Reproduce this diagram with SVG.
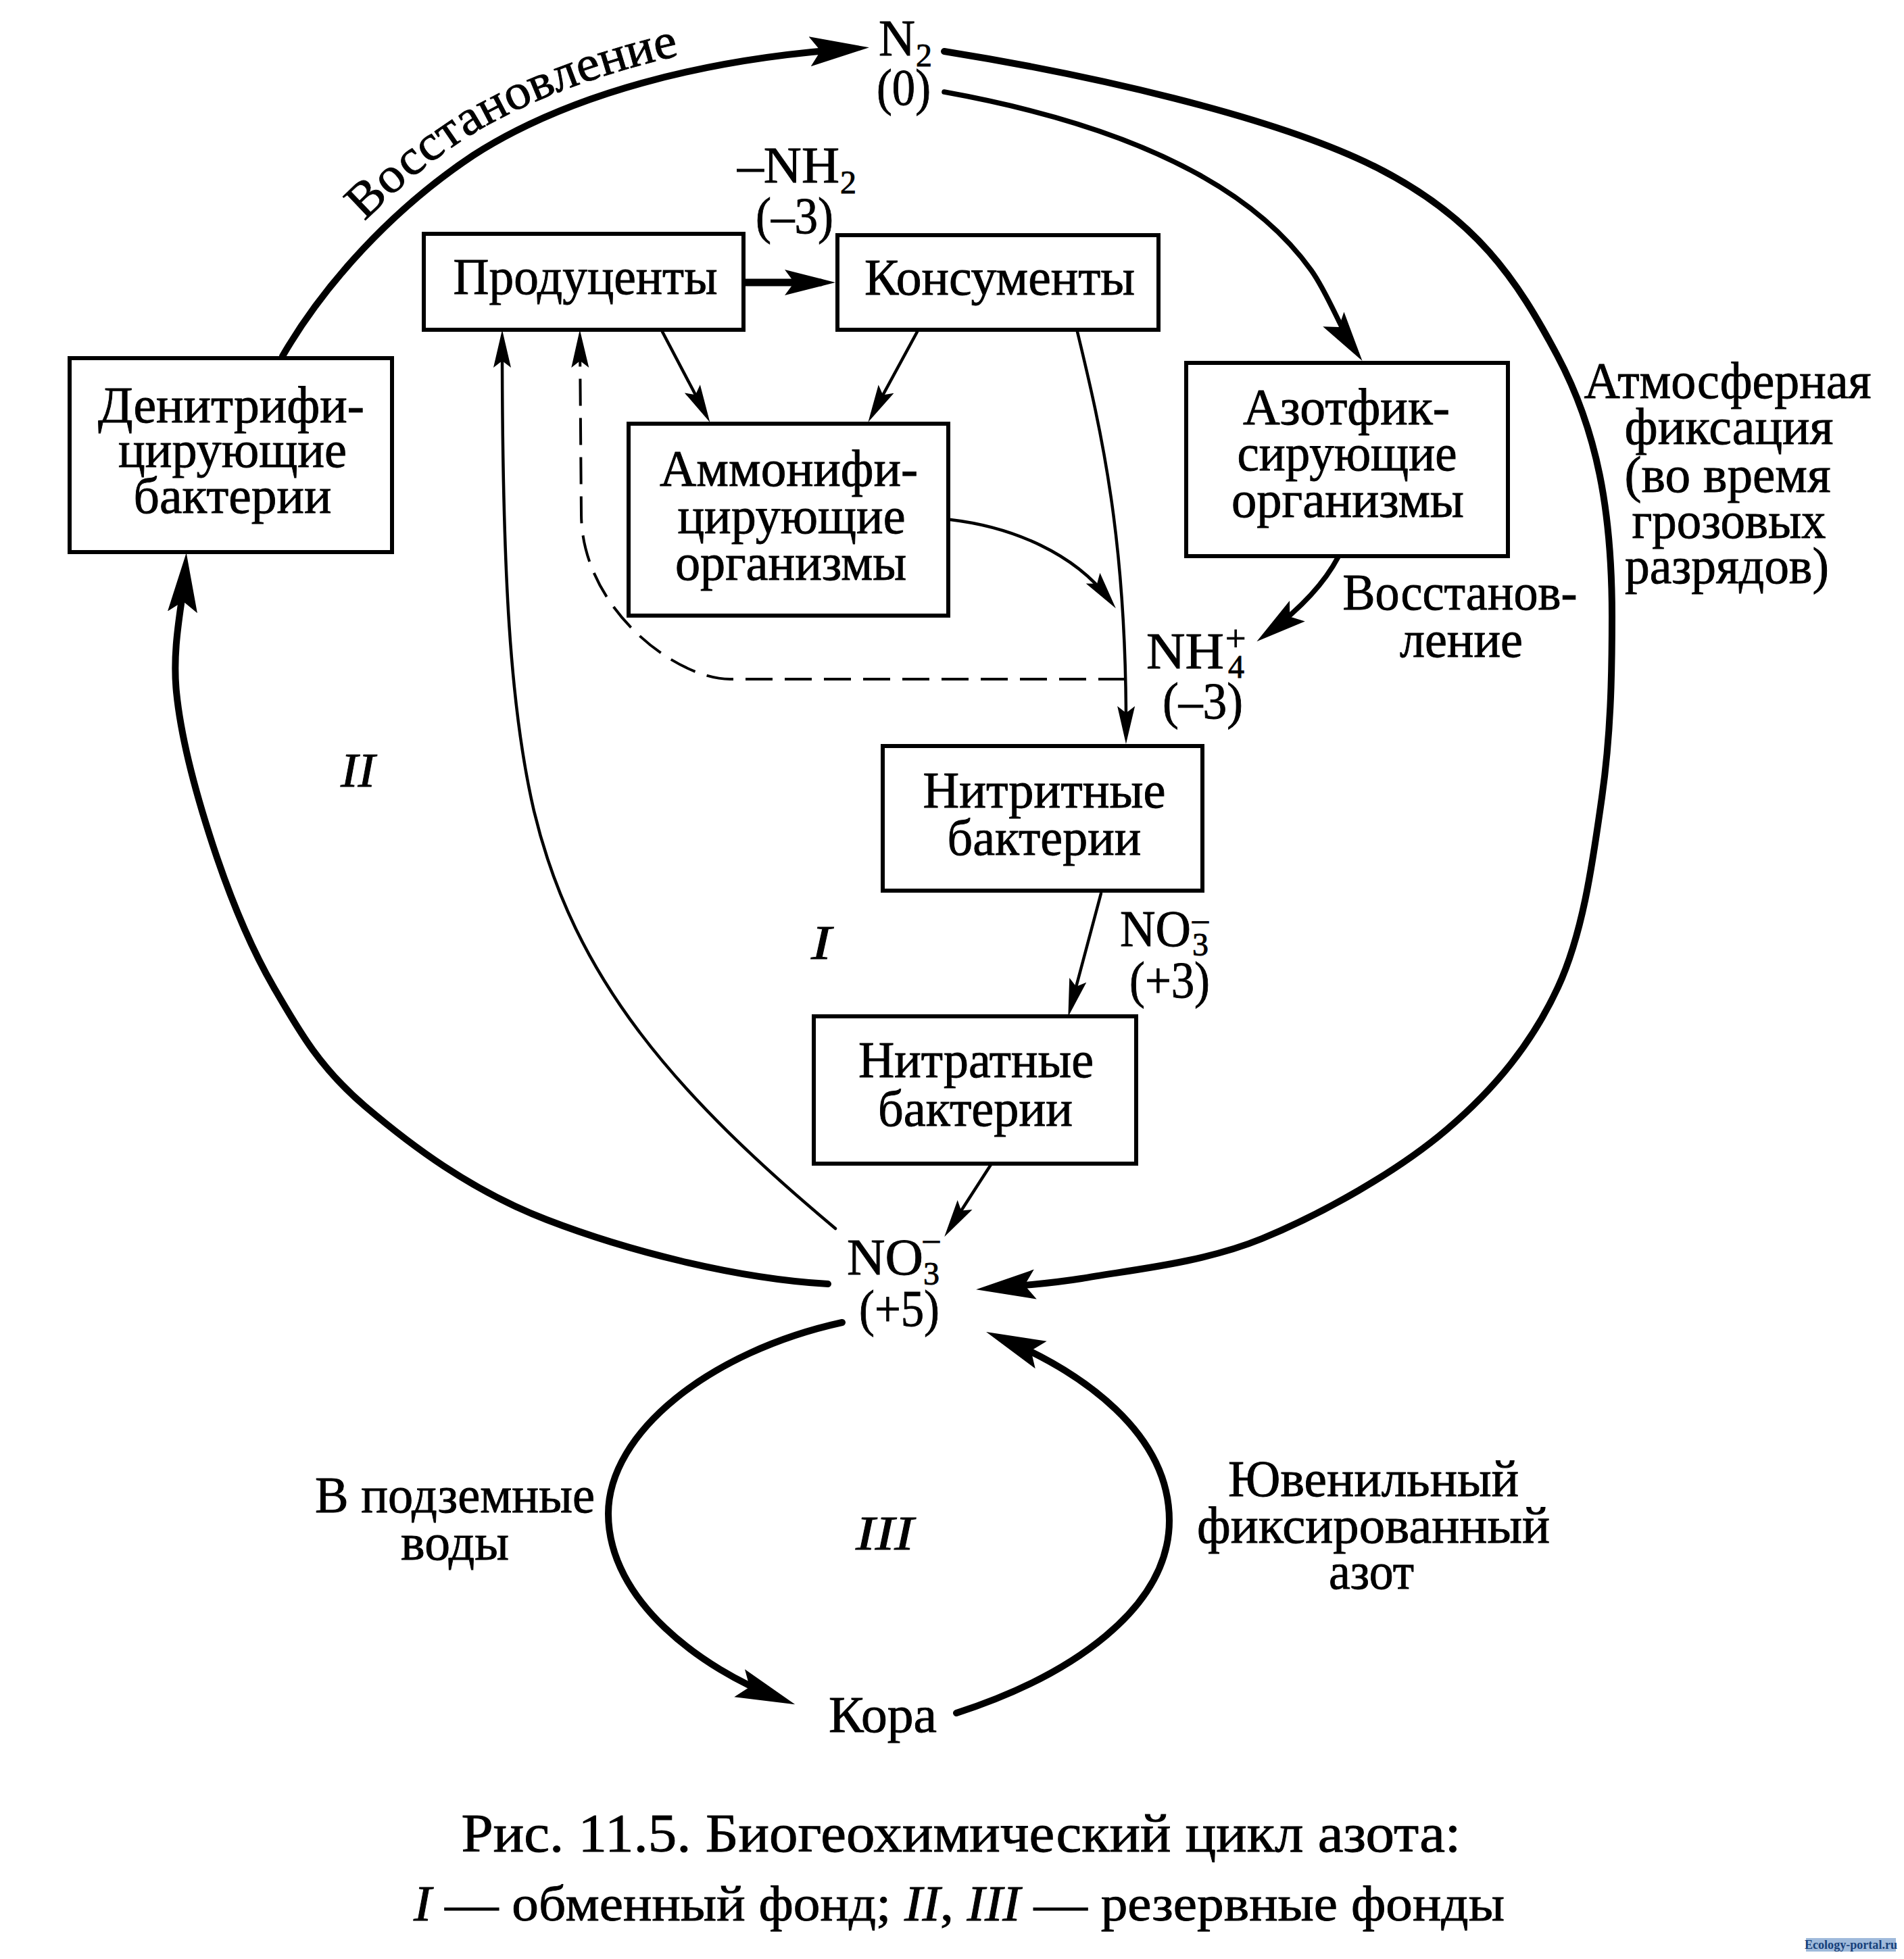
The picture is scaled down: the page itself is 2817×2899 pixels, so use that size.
<svg xmlns="http://www.w3.org/2000/svg" width="2817" height="2899" viewBox="0 0 2817 2899">
<style>
text{font-family:"Liberation Serif","Times New Roman",serif;fill:#000;stroke:#000;stroke-width:0.9}
.t{font-size:76px;text-anchor:middle}
.s{font-size:76px}
.sub{font-size:48px}
.it{font-style:italic;font-size:72px}
.box{fill:#fff;stroke:#000;stroke-width:6}
.thick{fill:none;stroke:#000;stroke-width:10;stroke-linecap:round}
.med{fill:none;stroke:#000;stroke-width:7.5;stroke-linecap:round}
.thin{fill:none;stroke:#000;stroke-width:4.5;stroke-linecap:round}
.dash{fill:none;stroke:#000;stroke-width:4;stroke-dasharray:40 18}
</style>
<defs>
<marker id="aL" markerUnits="userSpaceOnUse" viewBox="0 -24 90 48" markerWidth="90" markerHeight="48" refX="62" refY="0" orient="auto"><path d="M0,-22 L88,0 L0,22 L16,0 Z"/></marker>
<marker id="aM" markerUnits="userSpaceOnUse" viewBox="0 -21 78 42" markerWidth="78" markerHeight="42" refX="53" refY="0" orient="auto"><path d="M0,-19 L75,0 L0,19 L14,0 Z"/></marker>
<marker id="aS" markerUnits="userSpaceOnUse" viewBox="0 -15 58 30" markerWidth="58" markerHeight="30" refX="38" refY="0" orient="auto"><path d="M0,-13 L56,0 L0,13 L10,0 Z"/></marker>
<path id="arcText" d="M394,513 C456,406 565,287 685,207 C825,117 1048,57 1278,43"/>
</defs>
<rect width="2817" height="2899" fill="#fff"/>

<g id="connectors">
<path class="thick" marker-end="url(#aL)" d="M418,527 C480,420 580,310 700,230 C840,140 1040,87 1260,72"/>
<path class="thick" marker-end="url(#aL)" d="M1397,76 C1609,110 1882,171 2033,246 C2184,321 2245,415 2304,526 C2363,637 2385,756 2385,912 C2385,1002 2383,1089 2370,1180 C2357,1271 2343,1379 2305,1461 C2267,1543 2213,1610 2140,1672 C2067,1734 1957,1796 1867,1833 C1777,1870 1666,1880 1600,1892 C1550,1900 1515,1902 1470,1906"/>
<path class="thick" marker-end="url(#aL)" d="M1225,1900 C1085,1892 923,1849 809,1805 C695,1761 607,1694 540,1637 C473,1580 442,1525 405,1461 C368,1397 339,1324 315,1251 C291,1178 268,1095 261,1024 C254,953 271,890 274,844"/>
<path class="med" marker-end="url(#aM)" d="M1397,136 C1640,180 1840,260 1940,400 C1965,435 1985,490 2003,516"/>
<path class="med" marker-end="url(#aM)" d="M1980,824 C1960,862 1925,900 1877,936"/>
<path class="med" style="stroke-width:11" marker-end="url(#aM)" d="M1101,418 L1214,418"/>
<path class="thin" marker-end="url(#aS)" d="M980,491 L1042,609"/>
<path class="thin" marker-end="url(#aS)" d="M1357,491 L1293,609"/>
<path class="thin" marker-end="url(#aS)" d="M1594,491 C1630,640 1667,800 1666,1083"/>
<path class="thin" marker-end="url(#aS)" d="M1406,769 C1500,780 1590,820 1640,886"/>
<path class="dash" marker-end="url(#aS)" d="M1665,1005 L1080,1005 C1000,1005 860,900 860,760 L858,506"/>
<path class="thin" marker-end="url(#aS)" d="M1236,1818 C1000,1620 850,1450 790,1200 C755,1050 743,850 743,506"/>
<path class="thin" marker-end="url(#aS)" d="M1629,1322 L1585,1487"/>
<path class="thin" marker-end="url(#aS)" d="M1467,1722 L1407,1815"/>
<path class="thick" marker-end="url(#aL)" d="M1246,1957 C1050,2000 900,2120 900,2240 C900,2370 1040,2470 1152,2513"/>
<path class="thick" marker-end="url(#aL)" d="M1415,2535 C1585,2480 1730,2380 1730,2250 C1730,2120 1600,2030 1483,1981"/>
</g>

<g id="n-producers">
<rect class="box" x="627" y="346" width="473" height="142"/>
<text class="t" x="866" y="435" textLength="391" lengthAdjust="spacingAndGlyphs">Продуценты</text>
</g>
<g id="n-consumers">
<rect class="box" x="1239" y="348" width="475" height="140"/>
<text class="t" x="1479" y="436" textLength="400" lengthAdjust="spacingAndGlyphs">Консументы</text>
</g>
<g id="n-denitr">
<rect class="box" x="103" y="530" width="477" height="287"/>
<text class="t"><tspan x="342" y="625" textLength="394" lengthAdjust="spacingAndGlyphs">Денитрифи-</tspan><tspan x="344" y="691" textLength="338" lengthAdjust="spacingAndGlyphs">цирующие</tspan><tspan x="344" y="759" textLength="293" lengthAdjust="spacingAndGlyphs">бактерии</tspan></text>
</g>
<g id="n-ammon">
<rect class="box" x="930" y="627" width="473" height="284"/>
<text class="t"><tspan x="1167" y="719" textLength="382" lengthAdjust="spacingAndGlyphs">Аммонифи-</tspan><tspan x="1171" y="789" textLength="337" lengthAdjust="spacingAndGlyphs">цирующие</tspan><tspan x="1170" y="858" textLength="342" lengthAdjust="spacingAndGlyphs">организмы</tspan></text>
</g>
<g id="n-azotfix">
<rect class="box" x="1755" y="537" width="476" height="286"/>
<text class="t"><tspan x="1992" y="628" textLength="306" lengthAdjust="spacingAndGlyphs">Азотфик-</tspan><tspan x="1993" y="696" textLength="325" lengthAdjust="spacingAndGlyphs">сирующие</tspan><tspan x="1994" y="765" textLength="344" lengthAdjust="spacingAndGlyphs">организмы</tspan></text>
</g>
<g id="n-nitrite">
<rect class="box" x="1306" y="1104" width="473" height="214"/>
<text class="t"><tspan x="1545" y="1195" textLength="359" lengthAdjust="spacingAndGlyphs">Нитритные</tspan><tspan x="1545" y="1265" textLength="287" lengthAdjust="spacingAndGlyphs">бактерии</tspan></text>
</g>
<g id="n-nitrate">
<rect class="box" x="1204" y="1504" width="477" height="218"/>
<text class="t"><tspan x="1444" y="1594" textLength="348" lengthAdjust="spacingAndGlyphs">Нитратные</tspan><tspan x="1443" y="1666" textLength="288" lengthAdjust="spacingAndGlyphs">бактерии</tspan></text>
</g>

<g id="n-n2">
<text class="s"><tspan x="1300" y="82" textLength="54" lengthAdjust="spacingAndGlyphs">N</tspan><tspan class="sub" x="1355" y="98">2</tspan><tspan x="1297" y="155" textLength="80" lengthAdjust="spacingAndGlyphs">(0)</tspan></text>
</g>
<g id="n-nh2">
<text class="s"><tspan x="1091" y="270" textLength="151" lengthAdjust="spacingAndGlyphs">–NH</tspan><tspan class="sub" x="1243" y="286">2</tspan><tspan x="1118" y="345" textLength="115" lengthAdjust="spacingAndGlyphs">(–3)</tspan></text>
</g>
<g id="n-nh4">
<text class="s"><tspan x="1696" y="989" textLength="115" lengthAdjust="spacingAndGlyphs">NH</tspan><tspan class="sub" x="1813" y="963" style="font-size:54px">+</tspan><tspan class="sub" x="1817" y="1003">4</tspan><tspan x="1720" y="1063" textLength="119" lengthAdjust="spacingAndGlyphs">(–3)</tspan></text>
</g>
<g id="n-no3a">
<text class="s"><tspan x="1657" y="1400" textLength="105" lengthAdjust="spacingAndGlyphs">NO</tspan><tspan class="sub" x="1764" y="1414">3</tspan><tspan class="sub" x="1764" y="1376">–</tspan><tspan x="1671" y="1476" textLength="119" lengthAdjust="spacingAndGlyphs">(+3)</tspan></text>
</g>
<g id="n-no3b">
<text class="s"><tspan x="1253" y="1886" textLength="113" lengthAdjust="spacingAndGlyphs">NO</tspan><tspan class="sub" x="1366" y="1901">3</tspan><tspan class="sub" x="1366" y="1849">–</tspan><tspan x="1271" y="1962" textLength="119" lengthAdjust="spacingAndGlyphs">(+5)</tspan></text>
</g>
<g id="n-kora">
<text class="t" x="1306" y="2563" textLength="160" lengthAdjust="spacingAndGlyphs">Кора</text>
</g>

<g id="labels">
<text style="font-size:74px"><textPath href="#arcText" startOffset="236" textLength="535" lengthAdjust="spacingAndGlyphs">Восстановление</textPath></text>
<text class="t"><tspan x="2556" y="589" textLength="425" lengthAdjust="spacingAndGlyphs">Атмосферная</tspan><tspan x="2558" y="657" textLength="309" lengthAdjust="spacingAndGlyphs">фиксация</tspan><tspan x="2556" y="728" textLength="305" lengthAdjust="spacingAndGlyphs">(во время</tspan><tspan x="2558" y="796" textLength="287" lengthAdjust="spacingAndGlyphs">грозовых</tspan><tspan x="2555" y="863" textLength="302" lengthAdjust="spacingAndGlyphs">разрядов)</tspan></text>
<text class="t"><tspan x="2160" y="902" textLength="347" lengthAdjust="spacingAndGlyphs">Восстанов-</tspan><tspan x="2162" y="972" textLength="182" lengthAdjust="spacingAndGlyphs">ление</tspan></text>
<text class="t"><tspan x="673" y="2238" textLength="414" lengthAdjust="spacingAndGlyphs">В подземные</tspan><tspan x="673" y="2308" textLength="160" lengthAdjust="spacingAndGlyphs">воды</tspan></text>
<text class="t"><tspan x="2032" y="2214" textLength="430" lengthAdjust="spacingAndGlyphs">Ювенильный</tspan><tspan x="2032" y="2283" textLength="522" lengthAdjust="spacingAndGlyphs">фиксированный</tspan><tspan x="2029" y="2351" textLength="126" lengthAdjust="spacingAndGlyphs">азот</tspan></text>
<text class="it" x="504" y="1164" textLength="51" lengthAdjust="spacingAndGlyphs">II</text>
<text class="it" x="1200" y="1419" textLength="30" lengthAdjust="spacingAndGlyphs">I</text>
<text class="it" x="1266" y="2293" textLength="86" lengthAdjust="spacingAndGlyphs">III</text>
</g>

<g id="caption">
<text class="t" style="font-size:80px"><tspan x="1422" y="2740" textLength="1479" lengthAdjust="spacingAndGlyphs">Рис. 11.5. Биогеохимический цикл азота:</tspan><tspan x="1419" y="2842" style="font-size:74px" textLength="1614" lengthAdjust="spacingAndGlyphs"><tspan font-style="italic">I</tspan> — обменный фонд; <tspan font-style="italic">II</tspan>, <tspan font-style="italic">III</tspan> — резервные фонды</tspan></text>
</g>

<g id="watermark">
<rect x="2672" y="2868" width="133" height="20" fill="#9fbadb"/>
<text x="2670" y="2884" style="font-size:19px;font-weight:bold;fill:#163f7a;stroke:none" textLength="137" lengthAdjust="spacingAndGlyphs">Ecology-portal.ru</text>
</g>
</svg>
